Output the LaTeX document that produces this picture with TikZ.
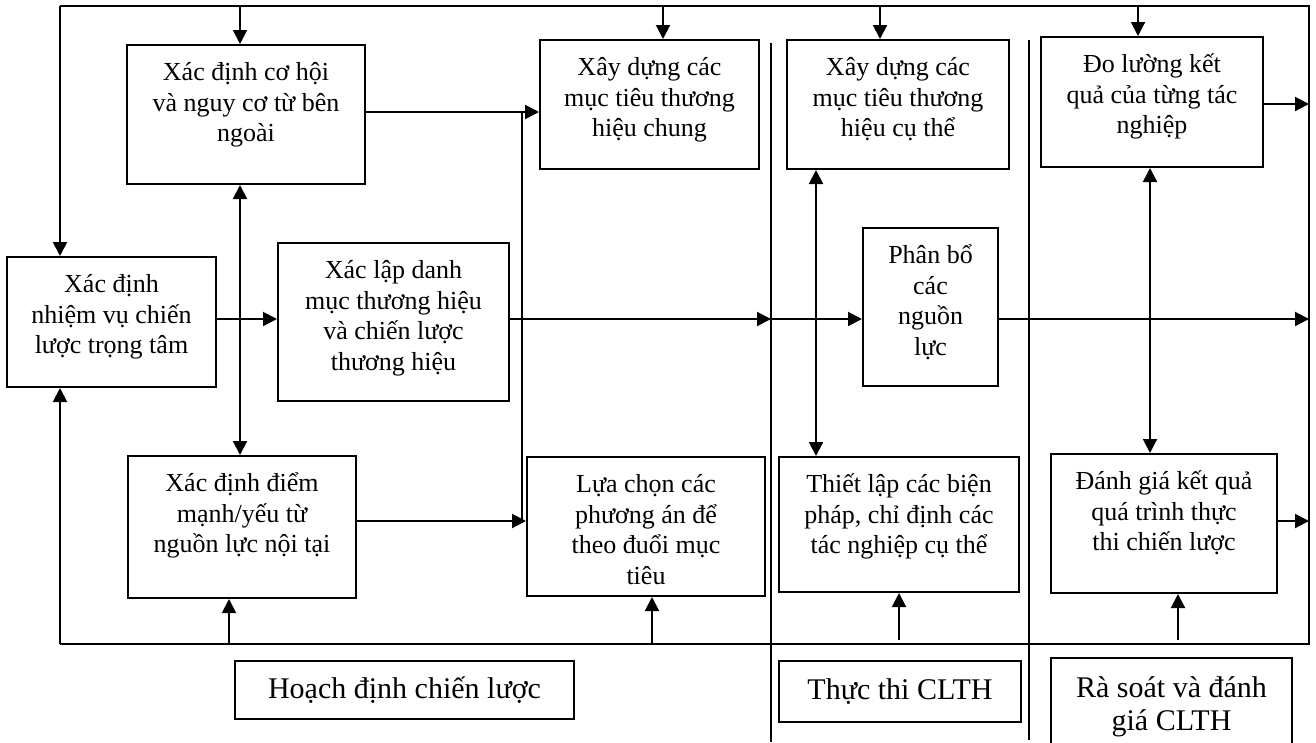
\documentclass[tikz,border=0pt]{standalone}
\usepackage{fontspec}
\setmainfont{Liberation Serif}
\usetikzlibrary{arrows.meta}

\newcommand\boxfont{\fontsize{26}{30.8}\selectfont}
\newcommand\labelfont{\fontsize{30}{33}\selectfont}

% stage box: name, x1, y1, x2, y2, text (text hangs from the top edge)
\newcommand\stagebox[6]{%
  \node[box,minimum width={#4-#2},minimum height={#5-#3}] (#1) at ({(#2+#4)/2},{(#3+#5)/2}) {};
  \node[txt] (#1-t) at ([yshift=-12pt]#1.north) {\rule{0pt}{24pt}#6};
}

\begin{document}
\begin{tikzpicture}[x=1pt,y=-1pt,
  frame/.style={line width=2pt},
  arr/.style={line width=2pt,-{Triangle[length=14pt,width=14pt]}},
  dbl/.style={line width=2pt,{Triangle[length=14pt,width=14pt]}-{Triangle[length=14pt,width=14pt]}},
  sepline/.style={line width=1.2pt},
  box/.style={draw,line width=2pt,inner sep=0pt},
  txt/.style={anchor=north,align=center,inner sep=0pt,font=\boxfont},
  lbl/.style={anchor=north,align=center,inner sep=0pt,font=\labelfont},
]
\useasboundingbox (0,0) rectangle (1316,742);

% outer feedback frame
\coordinate (TL) at (60,6);
\coordinate (TR) at (1309,6);
\coordinate (BR) at (1309,644);
\coordinate (BL) at (60,644);
\coordinate (sepA) at (771,43);
\coordinate (sepB) at (1029,40);
\coordinate (jx) at (522,0);

% phase separators
\draw[sepline] (sepA) -- (sepA |- 0,742);
\draw[sepline] (sepB) -- (sepB |- 0,740);

% boxes
\stagebox{ch}{127}{45}{365}{184}{Xác định cơ hội\\và nguy cơ từ bên\\ngoài}
\stagebox{mtc}{540}{40}{759}{169}{Xây dựng các\\mục tiêu thương\\hiệu chung}
\stagebox{mtct}{787}{40}{1009}{169}{Xây dựng các\\mục tiêu thương\\hiệu cụ thể}
\stagebox{dl}{1041}{37}{1263}{167}{Đo lường kết\\quả của từng tác\\nghiệp}
\stagebox{nv}{7}{257}{216}{387}{Xác định\\nhiệm vụ chiến\\lược trọng tâm}
\stagebox{xl}{278}{243}{509}{401}{Xác lập danh\\mục thương hiệu\\và chiến lược\\thương hiệu}
\stagebox{pb}{863}{228}{998}{386}{Phân bổ\\các\\nguồn\\lực}
\stagebox{dm}{128}{456}{356}{598}{Xác định điểm\\mạnh/yếu từ\\nguồn lực nội tại}
\stagebox{lc}{527}{457}{765}{596}{Lựa chọn các\\phương án để\\theo đuổi mục\\tiêu}
\stagebox{bp}{779}{457}{1019}{592}{Thiết lập các biện\\pháp, chỉ định các\\tác nghiệp cụ thể}
\stagebox{dg}{1051}{454}{1277}{593}{Đánh giá kết quả\\quá trình thực\\thi chiến lược}

% phase labels
\node[box,minimum width=339,minimum height=58,font=\labelfont] (hd) at (404.5,690) {Hoạch định chiến lược};
\node[box,minimum width=242,minimum height=61,font=\labelfont] (tt) at (900,691.5) {Thực thi CLTH};
\node[box,minimum width=241,minimum height=122] (rs) at (1171.5,719) {};
\node[lbl] (rs-t) at ([yshift=-13pt]rs.north) {\rule{0pt}{27pt}Rà soát và đánh\\giá CLTH};

% frame
\draw[frame] (TL) -- (TR) -- (BR) -- (BL);
\draw[arr] (TL) -- (TL |- nv.north);
\draw[arr] (BL) -- (BL |- nv.south);

% arrows from the top line
\draw[arr] ([xshift=-6pt]ch.north |- TL) -- ([xshift=-6pt]ch.north);
\draw[arr] ([xshift=13.5pt]mtc.north |- TL) -- ([xshift=13.5pt]mtc.north);
\draw[arr] ([xshift=-18pt]mtct.north |- TL) -- ([xshift=-18pt]mtct.north);
\draw[arr] ([xshift=-14pt]dl.north |- TL) -- ([xshift=-14pt]dl.north);

% two-way links between upper and lower boxes
\draw[dbl] ([xshift=-6pt]ch.south) -- ([xshift=-6pt]ch.south |- dm.north);
\draw[dbl] ([xshift=-82pt]mtct.south) -- ([xshift=-82pt]mtct.south |- bp.north);
\draw[dbl] ([xshift=-2pt]dl.south) -- ([xshift=-2pt]dl.south |- dg.north);

% arrows from the bottom line
\draw[arr] ([xshift=-13pt]dm.south |- BL) -- ([xshift=-13pt]dm.south);
\draw[arr] ([xshift=6pt]lc.south |- BL) -- ([xshift=6pt]lc.south);
\draw[arr] ([yshift=4pt]bp.south |- BL) -- (bp.south);
\draw[arr] ([xshift=14pt,yshift=4pt]dg.south |- BL) -- ([xshift=14pt]dg.south);

% main row
\coordinate (row) at ([yshift=3pt]xl.east);
\draw[arr] ([yshift=3pt]nv.east) -- ([yshift=3pt]nv.east -| xl.west);
\draw[arr] (row) -- (row -| sepA);
\draw[arr] (row -| sepA) -- (row -| pb.west);
\draw[arr] (row -| pb.east) -- (row -| BR);

% external / internal analysis to objectives and options
\coordinate (r1) at ([yshift=2.5pt]ch.east);
\coordinate (r2) at ([yshift=6pt]dm.east);
\draw[arr] (r1) -- (r1 -| mtc.west);
\draw[arr] (r2) -- (r2 -| lc.west);
\draw[frame] (r1 -| jx) -- (r2 -| jx);

% outputs of the review stage
\draw[arr] ([yshift=-2pt]dl.east) -- ([yshift=-2pt]dl.east -| BR);
\draw[arr] ([yshift=2.5pt]dg.east) -- ([yshift=2.5pt]dg.east -| BR);
\end{tikzpicture}
\end{document}
